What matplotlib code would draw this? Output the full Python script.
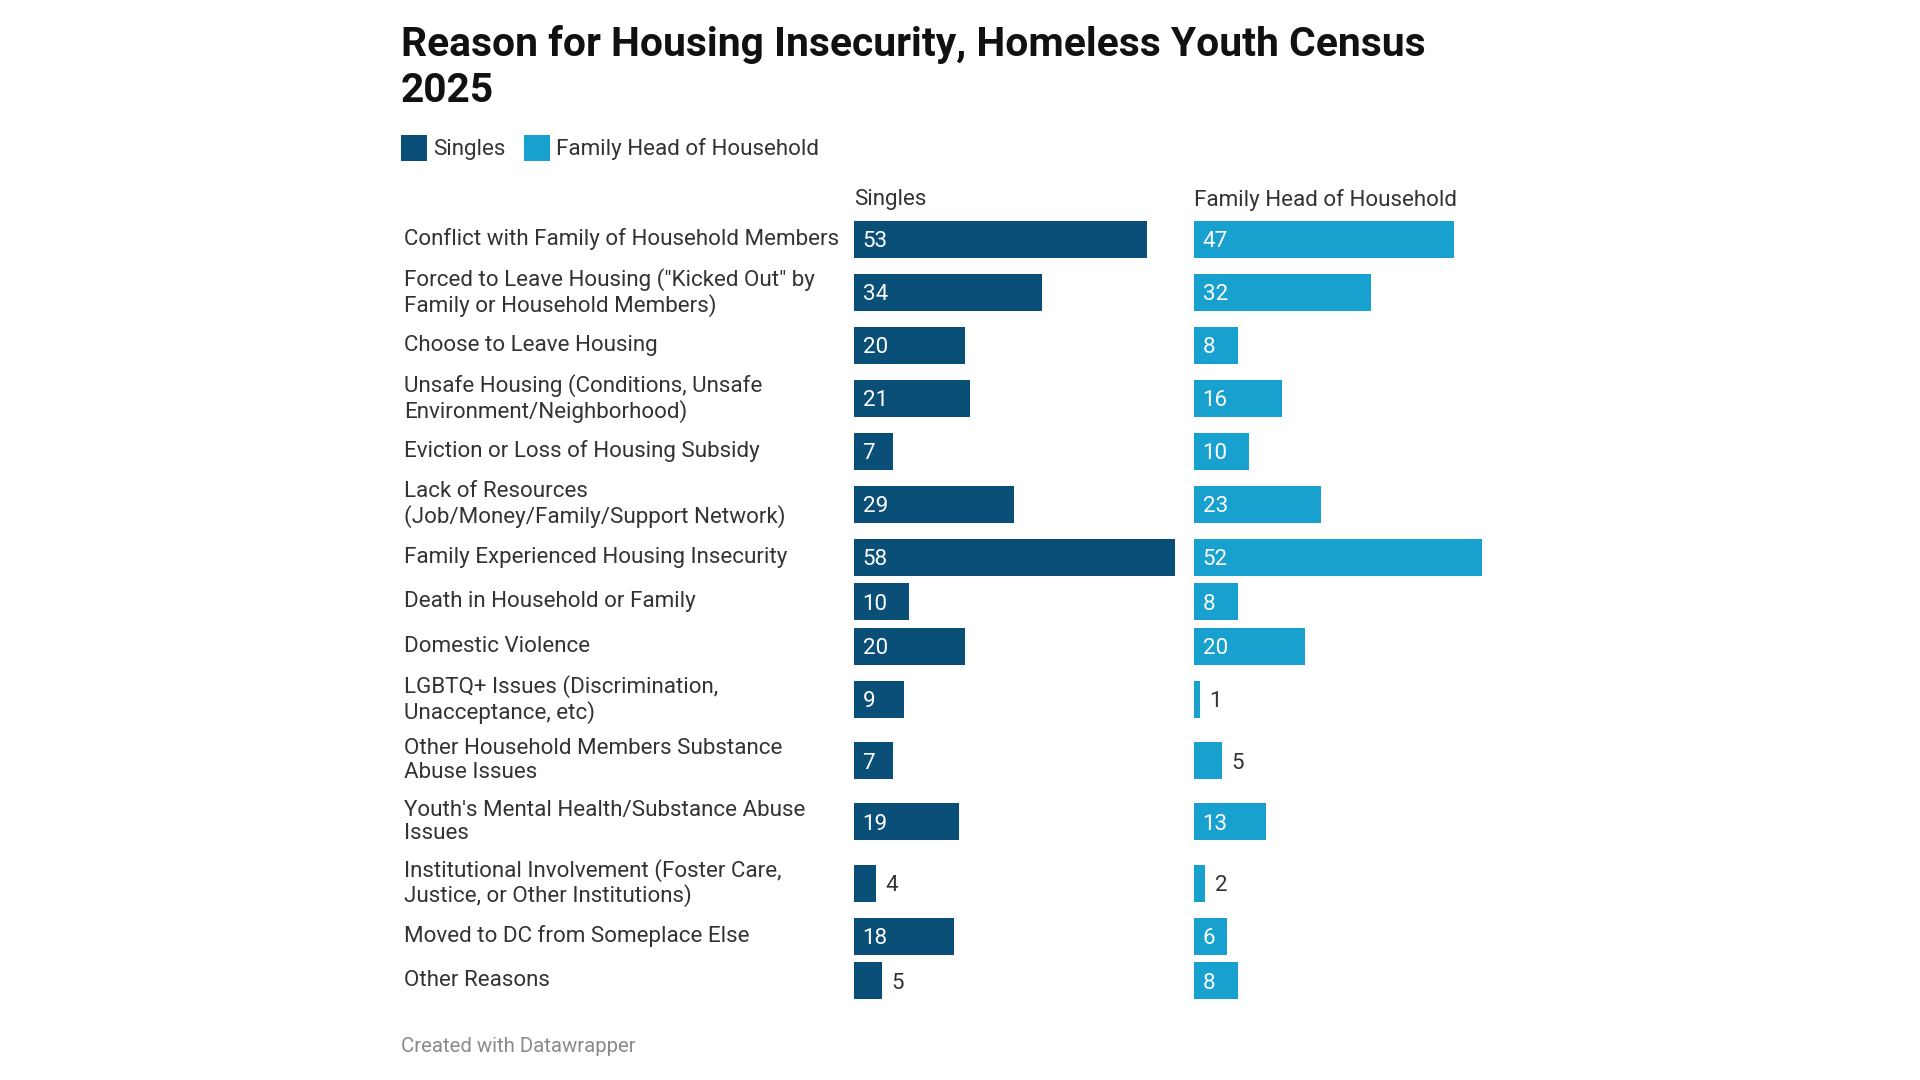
import matplotlib
matplotlib.use("Agg")
import matplotlib.pyplot as plt
from matplotlib.patches import Rectangle

plt.rcParams['font.family'] = ['Roboto', 'DejaVu Sans']

categories = [
    "Conflict with Family of Household Members",
    "Forced to Leave Housing (\"Kicked Out\" by\nFamily or Household Members)",
    "Choose to Leave Housing",
    "Unsafe Housing (Conditions, Unsafe\nEnvironment/Neighborhood)",
    "Eviction or Loss of Housing Subsidy",
    "Lack of Resources\n(Job/Money/Family/Support Network)",
    "Family Experienced Housing Insecurity",
    "Death in Household or Family",
    "Domestic Violence",
    "LGBTQ+ Issues (Discrimination,\nUnacceptance, etc)",
    "Other Household Members Substance\nAbuse Issues",
    "Youth's Mental Health/Substance Abuse\nIssues",
    "Institutional Involvement (Foster Care,\nJustice, or Other Institutions)",
    "Moved to DC from Someplace Else",
    "Other Reasons",
]
singles = [53, 34, 20, 21, 7, 29, 58, 10, 20, 9, 7, 19, 4, 18, 5]
family = [47, 32, 8, 16, 10, 23, 52, 8, 20, 1, 5, 13, 2, 6, 8]
series_names = ["Singles", "Family Head of Household"]
title_lines = ["Reason for Housing Insecurity, Homeless Youth Census", "2025"]
footer = "Created with Datawrapper"

DARK = "#0a4f78"
LIGHT = "#18a1cf"
TEXT = "#333333"

W, H = 1920, 1080
fig = plt.figure(figsize=(19.2, 10.8), dpi=100)
fig.patch.set_facecolor("white")

# row layout (pixel positions from top)
H1, H2 = 44.7, 61.2
first_center = 239.4
heights = [H1 if "\n" not in c else H2 for c in categories]
centers = [first_center]
for i in range(1, len(categories)):
    centers.append(centers[-1] + (heights[i - 1] + heights[i]) / 2)

PX_PER_UNIT = 5.53
BAR_H = 37
FS = 16.1
CAP_HALF = FS * 100 / 72 * 0.711 / 2

def fx(px):
    return px / W

def fy(py):
    return 1 - py / H

# title
fig.text(fx(401), fy(56), title_lines[0],
         fontsize=29.3, fontweight="bold", color="#111111", va="baseline", ha="left")
fig.text(fx(401), fy(102), title_lines[1],
         fontsize=29.3, fontweight="bold", color="#111111", va="baseline", ha="left")

# legend
leg = [(401, series_names[0], DARK, 433), (524, series_names[1], LIGHT, 556)]
for x0, name, col, tx in leg:
    fig.patches.append(Rectangle((fx(x0), fy(161)), 26 / W, 26 / H,
                                 transform=fig.transFigure, facecolor=col,
                                 edgecolor="none"))
    fig.text(fx(tx), fy(149), name, fontsize=FS, color=TEXT, va="center", ha="left")

# category labels
for c, y in zip(categories, centers):
    fig.text(fx(404), fy(y), c, fontsize=FS, color=TEXT, va="center", ha="left",
             linespacing=1.16)

panels = [(854, singles, DARK, series_names[0]), (1194, family, LIGHT, series_names[1])]
AX_W = 330
for left, vals, col, name in panels:
    ax = fig.add_axes([fx(left), 0, AX_W / W, 1])
    ax.set_xlim(0, AX_W / PX_PER_UNIT)
    ax.set_ylim(H, 0)
    ax.axis("off")
    ax.barh(centers, vals, height=BAR_H, color=col, left=0)
    for v, y in zip(vals, centers):
        if v >= 6:
            ax.text(8.5 / PX_PER_UNIT, y + CAP_HALF, str(v), color="white", fontsize=FS,
                    va="baseline", ha="left")
        else:
            ax.text(v + 9.5 / PX_PER_UNIT, y + CAP_HALF, str(v), color=TEXT, fontsize=FS,
                    va="baseline", ha="left")
    fig.text(fx(left), fy(200), name, fontsize=FS, color=TEXT, va="center", ha="left")

fig.text(fx(401), fy(1047), footer, fontsize=14.7, color="#8a8a8a", va="center", ha="left")

fig.savefig("out.png", dpi=100, facecolor="white")
